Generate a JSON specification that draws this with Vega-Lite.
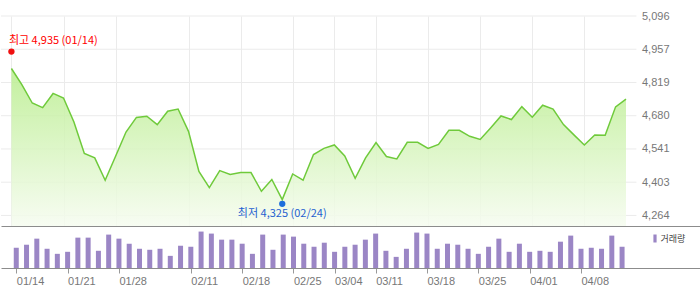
{
  "$schema": "https://vega.github.io/schema/vega-lite/v6.json",
  "padding": {"top": 10, "left": 0, "right": 0, "bottom": 0},
  "spacing": 0,
  "config": {
    "view": {"stroke": null},
    "axis": {"labelFont": "Liberation Sans", "labelFontSize": 11, "labelColor": "#777777", "labelOverlap": false}
  },
  "datasets": {
    "daily": [
      {"i": 0, "d": "01/14", "close": 4877, "vol": 200},
      {"i": 1, "d": "01/15", "close": 4810, "vol": 230},
      {"i": 2, "d": "01/16", "close": 4733, "vol": 290},
      {"i": 3, "d": "01/17", "close": 4714, "vol": 190},
      {"i": 4, "d": "01/20", "close": 4773, "vol": 140},
      {"i": 5, "d": "01/21", "close": 4754, "vol": 160},
      {"i": 6, "d": "01/22", "close": 4654, "vol": 300},
      {"i": 7, "d": "01/23", "close": 4523, "vol": 300},
      {"i": 8, "d": "01/24", "close": 4504, "vol": 170},
      {"i": 9, "d": "01/27", "close": 4411, "vol": 330},
      {"i": 10, "d": "01/28", "close": 4511, "vol": 290},
      {"i": 11, "d": "01/31", "close": 4612, "vol": 240},
      {"i": 12, "d": "02/03", "close": 4673, "vol": 190},
      {"i": 13, "d": "02/04", "close": 4678, "vol": 180},
      {"i": 14, "d": "02/05", "close": 4643, "vol": 190},
      {"i": 15, "d": "02/06", "close": 4699, "vol": 120},
      {"i": 16, "d": "02/07", "close": 4708, "vol": 220},
      {"i": 17, "d": "02/11", "close": 4615, "vol": 210},
      {"i": 18, "d": "02/12", "close": 4448, "vol": 360},
      {"i": 19, "d": "02/13", "close": 4380, "vol": 340},
      {"i": 20, "d": "02/14", "close": 4451, "vol": 280},
      {"i": 21, "d": "02/17", "close": 4435, "vol": 280},
      {"i": 22, "d": "02/18", "close": 4443, "vol": 240},
      {"i": 23, "d": "02/19", "close": 4443, "vol": 140},
      {"i": 24, "d": "02/20", "close": 4365, "vol": 330},
      {"i": 25, "d": "02/21", "close": 4414, "vol": 180},
      {"i": 26, "d": "02/24", "close": 4330, "vol": 330},
      {"i": 27, "d": "02/25", "close": 4437, "vol": 310},
      {"i": 28, "d": "02/26", "close": 4411, "vol": 240},
      {"i": 29, "d": "02/27", "close": 4518, "vol": 210},
      {"i": 30, "d": "02/28", "close": 4544, "vol": 250},
      {"i": 31, "d": "03/04", "close": 4558, "vol": 160},
      {"i": 32, "d": "03/05", "close": 4512, "vol": 210},
      {"i": 33, "d": "03/06", "close": 4419, "vol": 230},
      {"i": 34, "d": "03/07", "close": 4504, "vol": 280},
      {"i": 35, "d": "03/11", "close": 4568, "vol": 340},
      {"i": 36, "d": "03/12", "close": 4510, "vol": 170},
      {"i": 37, "d": "03/13", "close": 4500, "vol": 110},
      {"i": 38, "d": "03/14", "close": 4569, "vol": 190},
      {"i": 39, "d": "03/17", "close": 4569, "vol": 350},
      {"i": 40, "d": "03/18", "close": 4544, "vol": 340},
      {"i": 41, "d": "03/19", "close": 4560, "vol": 190},
      {"i": 42, "d": "03/20", "close": 4619, "vol": 240},
      {"i": 43, "d": "03/21", "close": 4619, "vol": 230},
      {"i": 44, "d": "03/24", "close": 4594, "vol": 190},
      {"i": 45, "d": "03/25", "close": 4581, "vol": 140},
      {"i": 46, "d": "03/26", "close": 4629, "vol": 210},
      {"i": 47, "d": "03/27", "close": 4679, "vol": 290},
      {"i": 48, "d": "03/28", "close": 4664, "vol": 160},
      {"i": 49, "d": "03/31", "close": 4718, "vol": 240},
      {"i": 50, "d": "04/01", "close": 4674, "vol": 160},
      {"i": 51, "d": "04/02", "close": 4724, "vol": 170},
      {"i": 52, "d": "04/03", "close": 4708, "vol": 160},
      {"i": 53, "d": "04/04", "close": 4643, "vol": 260},
      {"i": 54, "d": "04/07", "close": 4600, "vol": 320},
      {"i": 55, "d": "04/08", "close": 4558, "vol": 190},
      {"i": 56, "d": "04/09", "close": 4600, "vol": 200},
      {"i": 57, "d": "04/10", "close": 4599, "vol": 190},
      {"i": 58, "d": "04/11", "close": 4717, "vol": 320},
      {"i": 59, "d": "04/14", "close": 4749, "vol": 210}
    ],
    "levels": [
      {"v": 4264}, {"v": 4402.667}, {"v": 4541.333}, {"v": 4680},
      {"v": 4818.667}, {"v": 4957.333}, {"v": 5096}
    ],
    "extremes": [
      {"kind": "high", "i": 0, "v": 4935, "label": "최고 4,935 (01/14)"},
      {"kind": "low", "i": 26, "v": 4325, "label": "최저 4,325 (02/24)"}
    ]
  },
  "vconcat": [
    {
      "width": 700,
      "height": 210,
      "layer": [
        {
          "data": {"name": "levels"},
          "mark": {"type": "rule", "color": "#ebebeb", "strokeWidth": 1},
          "encoding": {
            "x": {
              "datum": -1,
              "type": "quantitative",
              "title": null,
              "scale": {"domain": [-1, 66.2], "nice": false, "zero": false},
              "axis": {
                "values": [0, 5, 10, 17, 22, 27, 31, 35, 40, 45, 50, 55],
                "tickCount": 30,
                "grid": true,
                "gridColor": "#ebebeb",
                "labels": false,
                "ticks": false,
                "domain": true,
                "domainColor": "#8c8c8c",
                "title": null
              }
            },
            "x2": {"datum": 60},
            "y": {
              "field": "v",
              "type": "quantitative",
              "title": null,
              "scale": {"domain": [4220, 5096], "nice": false, "zero": false},
              "axis": {
                "orient": "right",
                "values": [4264, 4402.667, 4541.333, 4680, 4818.667, 4957.333, 5096],
                "tickCount": 20,
                "format": ",.0f",
                "grid": false,
                "ticks": false,
                "tickSize": 0,
                "domain": false,
                "labelAlign": "right",
                "labelBaseline": "middle",
                "labelPadding": -32,
                "labelOverlap": false,
                "labelFlush": false,
                "title": null
              }
            }
          }
        },
        {
          "data": {"name": "daily"},
          "mark": {
            "type": "area",
            "fillOpacity": 0.85,
            "color": {
              "gradient": "linear",
              "x1": 0, "y1": 0, "x2": 0, "y2": 1,
              "stops": [
                {"offset": 0, "color": "#b8ed8c"},
                {"offset": 1, "color": "#f6fcf0"}
              ]
            }
          },
          "encoding": {
            "x": {"field": "i", "type": "quantitative", "title": null},
            "y": {"field": "close", "type": "quantitative", "title": null},
            "y2": {"datum": 4220}
          }
        },
        {
          "data": {"name": "daily"},
          "mark": {"type": "line", "color": "#6fca3b", "strokeWidth": 1.5},
          "encoding": {
            "x": {"field": "i", "type": "quantitative", "title": null},
            "y": {"field": "close", "type": "quantitative", "title": null}
          }
        },
        {
          "data": {"name": "extremes"},
          "transform": [{"filter": "datum.kind === 'high'"}],
          "layer": [
            {
              "mark": {"type": "point", "filled": true, "size": 40, "opacity": 1, "color": "#f01010", "yOffset": -3}
            },
            {
              "mark": {"type": "text", "align": "left", "baseline": "middle", "dx": -2.5, "dy": -13.5, "color": "#ff0000", "font": "Noto Sans CJK KR", "fontSize": 11},
              "encoding": {"text": {"field": "label"}}
            }
          ],
          "encoding": {
            "x": {"field": "i", "type": "quantitative", "title": null},
            "y": {"field": "v", "type": "quantitative", "title": null}
          }
        },
        {
          "data": {"name": "extremes"},
          "transform": [{"filter": "datum.kind === 'low'"}],
          "layer": [
            {
              "mark": {"type": "point", "filled": true, "size": 40, "opacity": 1, "color": "#1e6fdc", "yOffset": 3}
            },
            {
              "mark": {"type": "text", "align": "center", "baseline": "middle", "dy": 13.5, "color": "#1f60d0", "font": "Noto Sans CJK KR", "fontSize": 11},
              "encoding": {"text": {"field": "label"}}
            }
          ],
          "encoding": {
            "x": {"field": "i", "type": "quantitative", "title": null},
            "y": {"field": "v", "type": "quantitative", "title": null}
          }
        }
      ]
    },
    {
      "width": 700,
      "height": 42,
      "data": {"name": "daily"},
      "mark": {"type": "bar", "size": 5},
      "encoding": {
        "x": {
          "field": "i",
          "type": "quantitative",
          "title": null,
          "scale": {"domain": [-1, 66.2], "nice": false, "zero": false},
          "axis": {
            "values": [0, 5, 10, 17, 22, 27, 31, 35, 40, 45, 50, 55],
            "tickCount": 30,
            "labelExpr": "['01/14','01/21','01/28','02/11','02/18','02/25','03/04','03/11','03/18','03/25','04/01','04/08'][indexof([0,5,10,17,22,27,31,35,40,45,50,55], datum.value)]",
            "labelAlign": "left",
            "labelFlush": false,
            "labelOverlap": false,
            "labelPadding": 2,
            "tickSize": 5,
            "tickColor": "#999999",
            "domainColor": "#8c8c8c",
            "grid": false,
            "title": null
          }
        },
        "y": {
          "field": "vol",
          "type": "quantitative",
          "title": null,
          "scale": {"domain": [0, 415], "nice": false},
          "axis": null
        },
        "color": {
          "datum": "거래량",
          "scale": {"range": ["#9b86c5"]},
          "legend": {
            "title": null,
            "orient": "none",
            "legendX": 649.5,
            "legendY": 218,
            "padding": 0,
            "symbolType": "M-0.4,-1H0.4V1H-0.4Z",
            "symbolSize": 64,
            "symbolStrokeWidth": 0,
            "labelOffset": 1,
            "labelFont": "Noto Sans CJK KR",
            "labelFontSize": 9,
            "labelColor": "#444444"
          }
        }
      }
    }
  ]
}
